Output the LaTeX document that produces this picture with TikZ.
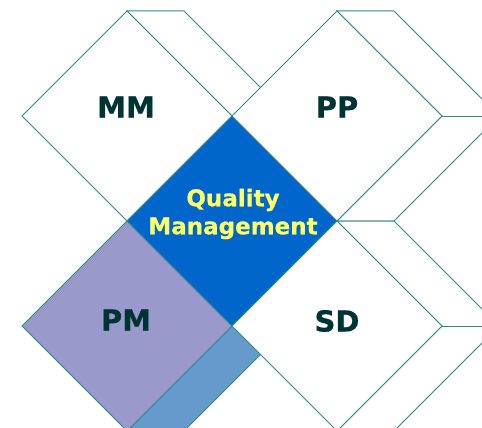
\documentclass[tikz,border=0pt]{standalone}
\usepackage{fontspec}
\setmainfont{DejaVu Sans}[BoldFeatures={FakeBold=0.6}]
\definecolor{rim}{RGB}{51,136,136}
\definecolor{ink}{RGB}{0,51,51}
\definecolor{qmblue}{RGB}{0,102,204}
\definecolor{qmtext}{RGB}{255,255,102}
\definecolor{pmface}{RGB}{153,153,204}
\definecolor{pmside}{RGB}{102,153,204}

\begin{document}
\begin{tikzpicture}[x=1pt,y=-1pt,
  rimline/.style={draw=rim,line width=1pt},
  modlabel/.style={font=\bfseries\fontsize{29}{34}\selectfont,text=ink}]
\clip (0,0) rectangle (482,428);
\fill [white] (0,0) rectangle (482,428);

\filldraw [rimline,fill=white] (127,11) -- (184,11) -- (289,116) -- (184,221) -- (127,221) -- (232,116) -- cycle;
\draw [rimline] (232,116) -- (289,116);
\filldraw [rimline,fill=white] (127,11) -- (232,116) -- (127,221) -- (22,116) -- cycle;
\node [modlabel] (mm) at (126,107) {MM};

\filldraw [rimline,fill=pmside] (127,221) -- (184,221) -- (289,326) -- (184,431) -- (127,431) -- (232,326) -- cycle;
\draw [rimline] (232,326) -- (289,326);
\filldraw [rimline,fill=pmface] (127,221) -- (232,326) -- (127,431) -- (22,326) -- cycle;
\node [modlabel] (pm) at (126,320) {PM};

\filldraw [rimline,fill=qmblue] (232,116) -- (337,221) -- (232,326) -- (127,221) -- cycle;
\node [font=\bfseries\fontsize{23}{28}\selectfont,text=qmtext,align=center] (qm) at (233,214) {Quality\\Management};

\filldraw [rimline,fill=white] (337,11) -- (394,11) -- (499,116) -- (394,221) -- (337,221) -- (442,116) -- cycle;
\draw [rimline] (442,116) -- (499,116);
\filldraw [rimline,fill=white] (337,11) -- (442,116) -- (337,221) -- (232,116) -- cycle;
\node [modlabel] (pp) at (337,107) {PP};

\filldraw [rimline,fill=white] (337,221) -- (394,221) -- (499,326) -- (394,431) -- (337,431) -- (442,326) -- cycle;
\draw [rimline] (442,326) -- (499,326);
\filldraw [rimline,fill=white] (337,221) -- (442,326) -- (337,431) -- (232,326) -- cycle;
\node [modlabel] (sd) at (337,321) {SD};
\end{tikzpicture}
\end{document}
